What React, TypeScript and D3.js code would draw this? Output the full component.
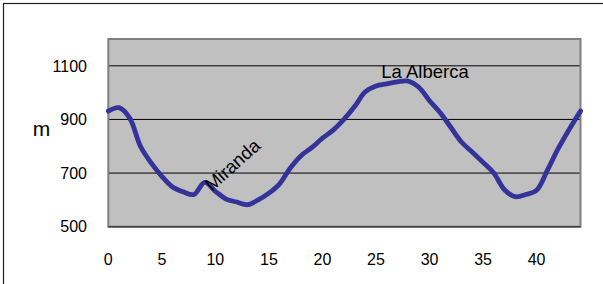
import React from "react";
import * as d3 from "d3";

const distances = [0, 1, 2, 3, 4, 5, 6, 7, 8, 9, 10, 11, 12, 13, 14, 15, 16, 17, 18, 19, 20, 21, 22, 23, 24, 25, 26, 27, 28, 29, 30, 31, 32, 33, 34, 35, 36, 37, 38, 39, 40, 41, 42, 43, 44.1];
const elevations = [931, 944, 905, 800, 738, 688, 648, 630, 620, 665, 632, 603, 592, 582, 600, 625, 660, 719, 765, 795, 830, 860, 900, 948, 1003, 1025, 1033, 1040, 1043, 1020, 970, 925, 870, 815, 778, 740, 700, 638, 612, 620, 636, 710, 790, 860, 931];
const xTicks = [0, 5, 10, 15, 20, 25, 30, 35, 40];
const yTicks = [500, 700, 900, 1100];
const labelNames = ["Miranda", "La Alberca"];
const labelAt = [9.3, 25.5];

export default function App() {
  const W = 603, H = 284;
  const left = 108.3, right = 580.5, top = 39, bottom = 226.7;
  const x = d3.scaleLinear().domain([0, 44.1]).range([left, right]);
  const y = d3.scaleLinear().domain([500, 1200]).range([bottom, top]);
  const pts = distances.map((d, i) => [d, elevations[i]] as [number, number]);
  const line = d3.line<[number, number]>().x(d => x(d[0])).y(d => y(d[1])).curve(d3.curveCatmullRom.alpha(0.5));
  const font = "'Liberation Sans', Arial, sans-serif";
  return (
    <svg width={W} height={H} style={{ position: "absolute", left: 0, top: 0 }}>
      <rect x={0} y={0} width={W} height={H} fill="#fff" />
      <rect x={3.5} y={3.5} width={W + 10} height={H + 10} fill="none" stroke="#222" strokeWidth={1.2} />
      <rect x={left} y={top} width={right - left} height={bottom - top} fill="#c0c0c0" />
      {yTicks.slice(1).map(t => (
        <line key={t} x1={left} x2={right} y1={y(t)} y2={y(t)} stroke="#000" strokeWidth={1} />
      ))}
      <rect x={left} y={top} width={right - left} height={bottom - top} fill="none" stroke="#808080" strokeWidth={2} />
      <line x1={left} x2={right} y1={bottom} y2={bottom} stroke="#404040" strokeWidth={1.5} />
      <path d={line(pts) || ""} fill="none" stroke="#333399" strokeWidth={4.8} strokeLinejoin="round" strokeLinecap="round" />
      {yTicks.map(t => (
        <text key={t} x={87} y={y(t) + 5.7} textAnchor="end" fontFamily={font} fontSize={16} fill="#000">{t}</text>
      ))}
      {xTicks.map(t => (
        <text key={t} x={x(t)} y={265} textAnchor="middle" fontFamily={font} fontSize={16} fill="#000">{t}</text>
      ))}
      <text x={41.5} y={136} textAnchor="middle" fontFamily={font} fontSize={21} fill="#000">m</text>
      <text x={x(labelAt[0]) + 4} y={192} transform={`rotate(-42, ${x(labelAt[0]) + 4}, 192)`} fontFamily={font} fontSize={18.5} fill="#000">{labelNames[0]}</text>
      <text x={x(labelAt[1])} y={78.3} textAnchor="start" fontFamily={font} fontSize={18.5} fill="#000">{labelNames[1]}</text>
    </svg>
  );
}
